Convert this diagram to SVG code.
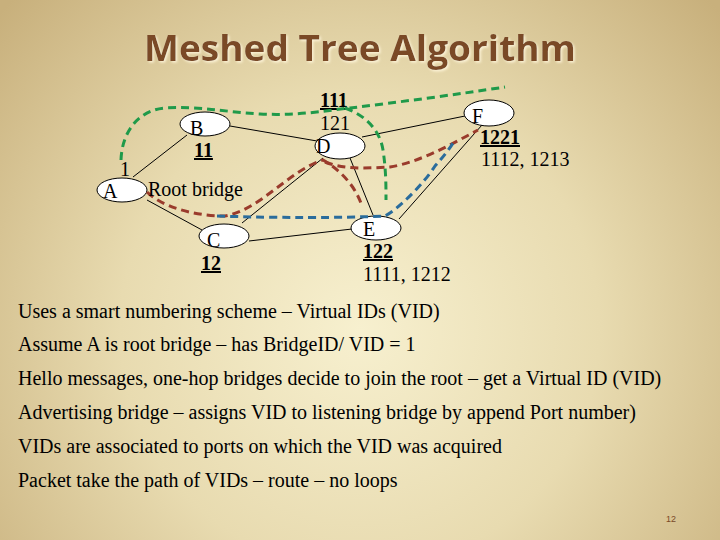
<svg xmlns="http://www.w3.org/2000/svg" width="720" height="540" viewBox="0 0 720 540">
<defs>
<radialGradient id="bg" cx="360" cy="330" r="480" gradientUnits="userSpaceOnUse">
<stop offset="0" stop-color="#f7f0cf"/>
<stop offset="0.5" stop-color="#e8dbb0"/>
<stop offset="1" stop-color="#c8b07c"/>
</radialGradient>
<filter id="sh" x="-10%" y="-30%" width="120%" height="160%">
<feDropShadow dx="1.5" dy="1.5" stdDeviation="0.8" flood-color="#fff6dc" flood-opacity="0.9"/>
</filter>
<style>
.n{fill:#fff;stroke:#000;stroke-width:1}
.e{stroke:#000;stroke-width:1;fill:none}
.t{font-family:"Liberation Serif",serif;font-size:20px;fill:#000}
.b{font-weight:bold;text-decoration:underline}
.body{font-family:"Liberation Serif",serif;font-size:20px;fill:#000}
.d{fill:none;stroke-width:3;stroke-dasharray:8 5}
.g{stroke:#1f9a4a}.r{stroke:#9a3b2c}.bl{stroke:#2a6c9c}
</style>
</defs>
<rect width="720" height="540" fill="url(#bg)"/>
<text x="360" y="61" text-anchor="middle" font-family="'Open Sans','Liberation Sans',sans-serif" font-weight="bold" font-size="35" fill="#7a4a28" textLength="432" lengthAdjust="spacingAndGlyphs" filter="url(#sh)">Meshed Tree Algorithm</text>
<g id="edges">
<line class="e" x1="133" y1="177" x2="187" y2="135"/>
<line class="e" x1="147" y1="200" x2="202" y2="230"/>
<line class="e" x1="230" y1="126" x2="317" y2="141"/>
<line class="e" x1="242" y1="223" x2="323" y2="158"/>
<line class="e" x1="249" y1="241" x2="352" y2="229"/>
<line class="e" x1="350" y1="158" x2="373" y2="215"/>
<line class="e" x1="362" y1="137" x2="465" y2="116"/>
<line class="e" x1="399" y1="219" x2="482" y2="125"/>
</g>
<g id="A"><ellipse class="n" cx="122" cy="190" rx="25" ry="12"/><text class="t" x="103" y="198">A</text><text class="t" x="120" y="176">1</text></g>
<g id="B"><ellipse class="n" cx="205" cy="124" rx="25" ry="12"/><text class="t" x="190" y="135">B</text><text class="t b" x="194" y="157">11</text></g>
<g id="D"><ellipse class="n" cx="340" cy="146" rx="25" ry="13"/><text class="t" x="316" y="153">D</text><text class="t b" x="320" y="107">111</text><text class="t" x="320" y="130">121</text></g>
<g id="C"><ellipse class="n" cx="224" cy="236" rx="25" ry="12"/><text class="t" x="207" y="247">C</text><text class="t b" x="201" y="270">12</text></g>
<g id="E"><ellipse class="n" cx="376" cy="228" rx="25" ry="12"/><text class="t" x="363" y="236">E</text><text class="t b" x="363" y="258">122</text><text class="t" x="363" y="281">1111, 1212</text></g>
<g id="F"><ellipse class="n" cx="489" cy="113" rx="25" ry="13"/><text class="t" x="472" y="123">F</text><text class="t b" x="480" y="144">1221</text><text class="t" x="481" y="166">1112, 1213</text></g>
<g id="connectors">
<path class="d g" d="M121 160 C122 130 140 110 165 108 C200 106 225 112 260 114 C300 116 330 110 350 108 C400 102 460 94 505 87"/>
<path class="d g" d="M345 108 C365 115 380 130 383 150 C386 170 386 185 386 200"/>
<path class="d r" d="M147 192 C160 205 190 216 225 216 C260 210 290 170 323 160 C340 170 355 185 362 206"/>
<path class="d r" d="M325 162 C345 170 370 168 390 167 C420 162 450 145 478 130"/>
<path class="d bl" d="M217 216 C280 218 340 218 385 216 C400 208 425 182 435 166 C445 155 450 148 455 140"/>
</g>
<text class="t" x="148" y="196">Root bridge</text>
<g class="body">
<text x="18" y="318">Uses a smart numbering scheme – Virtual IDs (VID)</text>
<text x="18" y="351">Assume A is root bridge – has BridgeID/ VID = 1</text>
<text x="18" y="385">Hello messages, one-hop bridges decide to join the root – get a Virtual ID (VID)</text>
<text x="18" y="419">Advertising bridge – assigns VID to listening bridge by append Port number)</text>
<text x="18" y="453">VIDs are associated to ports on which the VID was acquired</text>
<text x="18" y="487">Packet take the path of VIDs – route – no loops</text>
</g>
<text x="666" y="522" font-family="'Liberation Sans',sans-serif" font-size="9" fill="#7a4a28">12</text>
</svg>
